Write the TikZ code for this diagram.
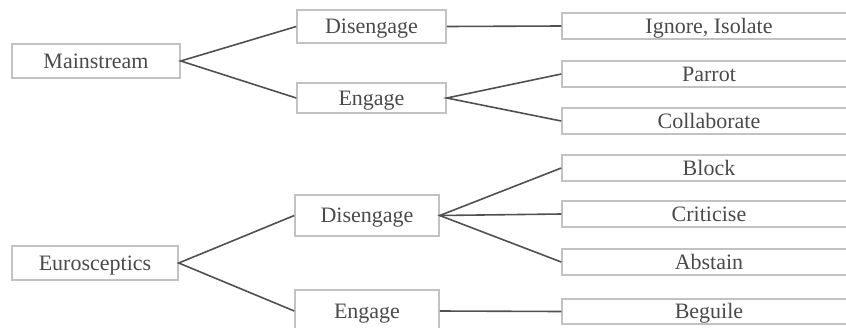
\documentclass[tikz,border=0pt]{standalone}
\usepackage{fontspec}
\setmainfont{Liberation Serif}
\definecolor{boxgray}{HTML}{C2C2C2}
\definecolor{linegray}{HTML}{505050}
\definecolor{textgray}{HTML}{4A4A4A}
\tikzset{
  box/.style={draw=boxgray, line width=1.5pt, text=textgray, inner sep=0pt,
    font=\fontsize{22}{26}\selectfont, text height=14.6pt, text depth=0pt},
  link/.style={draw=linegray, line width=1.6pt}
}
\begin{document}
\begin{tikzpicture}[x=1pt,y=-1pt]
    \useasboundingbox (0,0) rectangle (846,327);
    % first group
    \node[box, minimum width=168, minimum height=34] (main) at (96,61) {Mainstream};
    \node[box, minimum width=149, minimum height=33] (mdis) at (371.5,26.5) {Disengage};
    \node[box, minimum width=149, minimum height=30] (meng) at (371.5,98) {Engage};
    \node[box, minimum width=294, minimum height=26] (ignore) at (709,26) {Ignore, Isolate};
    \node[box, minimum width=294, minimum height=26] (parrot) at (709,74) {Parrot};
    \node[box, minimum width=294, minimum height=26] (collab) at (709,121) {Collaborate};
    % second group
    \node[box, minimum width=166, minimum height=34] (euro) at (95,263) {Eurosceptics};
    \node[box, minimum width=144, minimum height=41] (edis) at (367,215.5) {Disengage};
    \node[box, minimum width=144, minimum height=42] (eeng) at (367,311) {Engage};
    \node[box, minimum width=294, minimum height=26] (block) at (709,168) {Block};
    \node[box, minimum width=294, minimum height=26] (crit) at (709,214) {Criticise};
    \node[box, minimum width=294, minimum height=26] (abst) at (709,262) {Abstain};
    \node[box, minimum width=294, minimum height=25] (beguile) at (709,311.5) {Beguile};
    % connectors
    \draw[link] (mdis.west) -- (main.east) -- (meng.west);
    \draw[link] (mdis.east) -- (ignore.west);
    \draw[link] (parrot.west) -- (meng.east) -- (collab.west);
    \draw[link] (edis.west) -- (euro.east) -- (eeng.west);
    \draw[link] (block.west) -- (edis.east) -- (abst.west);
    \draw[link] (edis.east) -- (crit.west);
    \draw[link] (eeng.east) -- (beguile.west);
\end{tikzpicture}
\end{document}
